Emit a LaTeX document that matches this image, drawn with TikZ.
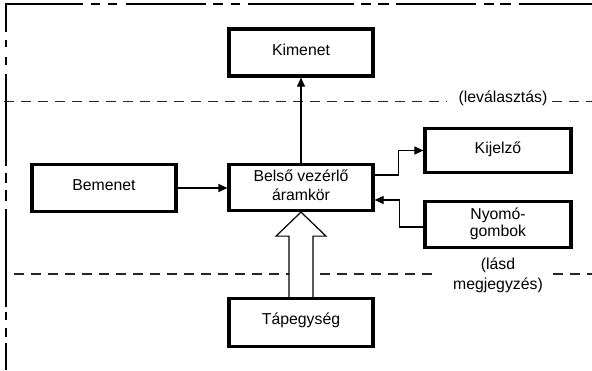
\documentclass[tikz,border=0pt]{standalone}
\usepackage{fontspec}
\setmainfont{Liberation Sans}
\usetikzlibrary{arrows.meta}
\begin{document}
\begin{tikzpicture}[x=1pt,y=-1pt,
  box/.style={draw, line width=3.2pt, minimum width=144pt, minimum height=47pt,
    inner sep=0pt, align=center, font=\fontsize{15.8}{19}\selectfont},
  lbl/.style={inner sep=0pt, align=center, font=\fontsize{15.8}{20}\selectfont},
  conn/.style={line width=1.2pt, -{Triangle[length=9pt,width=8pt]}},
  hollow/.style={line width=1.2pt, fill=white, line join=miter},
  sepline/.style={line width=1.2pt, draw=black!85, dash pattern=on 10pt off 7pt},
  border/.style={line width=2.9pt, line join=miter}]
\useasboundingbox (0,0) rectangle (592,370);

% outer border (top and left)
\draw[border] (6,32) -- (6,4) -- (83,4)
  (91,4) -- (100,4) (108,4) -- (117,4) (126,4) -- (206,4)
  (213,4) -- (223,4) (231,4) -- (240,4) (248,4) -- (354,4)
  (361,4) -- (371,4) (378,4) -- (389,4) (396,4) -- (476,4)
  (484,4) -- (494,4) (500,4) -- (511,4) (519,4) -- (592,4);
\draw[border] (6,40) -- (6,47) (6,57) -- (6,65) (6,74) -- (6,166)
  (6,173) -- (6,183) (6,190) -- (6,201) (6,209) -- (6,307)
  (6,312) -- (6,320) (6,328) -- (6,337) (6,343) -- (6,370);

% separator lines
\draw[sepline] (4,101.5) -- (447,101.5);
\draw[sepline] (552,101.5) -- (592,101.5);
\node[lbl] (lev) at (503,98) {(leválasztás)};
\draw[sepline] (14,274) -- (438,274);
\draw[sepline] (553,274) -- (592,274);
\node[lbl] (lasd) at (498,275) {(lásd\\megjegyzés)};

% boxes
\node[box] (kim) at (301,52.5) {\raisebox{5pt}{Kimenet}};
\node[box] (bem) at (104,188) {\raisebox{5pt}{Bemenet}};
\node[box, minimum height=46pt] (bel) at (301,187.5) {\raisebox{2pt}{\begin{tabular}{@{}c@{}}Belső vezérlő\\áramkör\end{tabular}}};
\node[box, minimum width=146pt, minimum height=44pt] (kij) at (498,150.5) {\raisebox{5pt}{Kijelző}};
\node[box, minimum width=146pt, minimum height=46pt] (nyo) at (498,224.5) {\raisebox{1pt}{\begin{tabular}{@{}c@{}}Nyomó-\\[-2pt]gombok\end{tabular}}};
\node[box, minimum height=48pt] (tap) at (301,322.5) {\raisebox{7pt}{Tápegység}};

% connectors
\draw[conn] (bel.north) -- (kim.south);
\draw[conn] (bem.east |- 0,188) -- (bel.west |- 0,188);
\draw[conn] ([yshift=12.5pt]bel.east) -- ++(24,0) |- (kij.west);
\draw[conn] ([yshift=-2.5pt]nyo.west) -- ++(-24,0) |- ([yshift=-12.5pt]bel.east);

% hollow power arrow
\draw[hollow] ([xshift=-12pt]tap.north) -- ([xshift=-12pt,yshift=-24pt]bel.south)
  -- ([xshift=-25pt,yshift=-24pt]bel.south) -- (bel.south)
  -- ([xshift=25pt,yshift=-24pt]bel.south) -- ([xshift=12pt,yshift=-24pt]bel.south)
  -- ([xshift=12pt]tap.north);
\end{tikzpicture}
\end{document}
